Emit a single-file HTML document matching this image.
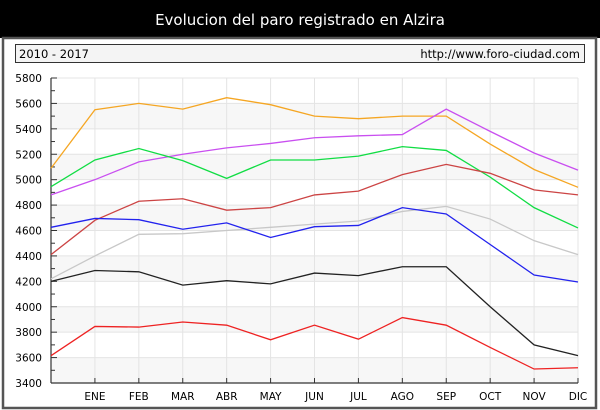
<!DOCTYPE html>
<html><head><meta charset="utf-8"><style>
html,body{margin:0;padding:0;background:#fff;}
svg{display:block;font-family:"DejaVu Sans","Liberation Sans",sans-serif;}
</style></head><body>
<svg width="600" height="410" viewBox="0 0 600 410" xmlns="http://www.w3.org/2000/svg">
<rect x="0" y="0" width="600" height="410" fill="#fff"/>
<rect x="0" y="0" width="600" height="38" fill="#000"/>
<text x="300" y="25" fill="#fff" font-size="15" text-anchor="middle">Evolucion del paro registrado en Alzira</text>
<rect x="3" y="38" width="593" height="370" fill="none" stroke="#555" stroke-width="2.5"/>
<rect x="15.5" y="44.5" width="569" height="18" fill="#f4f4f4" stroke="#333" stroke-width="1"/>
<text x="19" y="58" font-size="11.5" fill="#000">2010 - 2017</text>
<text x="580" y="58" font-size="11.5" fill="#000" text-anchor="end">http://www.foro-ciudad.com</text>
<g id="bands"></g><g id="grid"></g><g id="axes"></g><g id="series"></g>
</svg>
<script>
const months = ["","ENE","FEB","MAR","ABR","MAY","JUN","JUL","AGO","SEP","OCT","NOV","DIC"];
const yTicks = [3400,3600,3800,4000,4200,4400,4600,4800,5000,5200,5400,5600,5800];
const sOrange = [5090,5550,5600,5555,5645,5590,5500,5480,5500,5500,5280,5080,4940];
const sPurple = [4880,5000,5140,5200,5250,5285,5330,5345,5355,5555,5380,5210,5075];
const sGreen  = [4945,5155,5245,5150,5010,5155,5155,5185,5260,5230,5020,4780,4620];
const sBrown  = [4410,4680,4830,4850,4760,4780,4880,4910,5040,5120,5050,4920,4880];
const sBlue   = [4625,4695,4685,4610,4660,4545,4630,4640,4780,4730,4490,4250,4195];
const sGray   = [4220,4400,4570,4575,4600,4625,4650,4675,4750,4790,4690,4520,4410];
const sBlack  = [4200,4285,4275,4170,4205,4180,4265,4245,4315,4315,4000,3700,3615];
const sRed    = [3615,3845,3840,3880,3855,3740,3855,3745,3915,3855,3680,3510,3520];
const seriesList = [
 ["series-orange",sOrange,"#f5a623"],["series-purple",sPurple,"#c94ff0"],
 ["series-green",sGreen,"#11dd44"],["series-brown",sBrown,"#cc4444"],
 ["series-lightgray",sGray,"#c8c8c8"],["series-blue",sBlue,"#2222ee"],
 ["series-black",sBlack,"#222222"],["series-red",sRed,"#ee2222"]];
const NS="http://www.w3.org/2000/svg";
const X0=51,X1=578,Y0=383,Y1=78,VMIN=3400,VMAX=5800;
const xS=i=>X0+(X1-X0)*i/(months.length-1);
const yS=v=>Y0-(v-VMIN)/(VMAX-VMIN)*(Y0-Y1);
function mk(t,a,p){const e=document.createElementNS(NS,t);for(const k in a)e.setAttribute(k,a[k]);document.getElementById(p).appendChild(e);return e;}
for(let i=0;i<yTicks.length-1;i++){
 if(i%2===0){const b=mk("rect",{x:X0,y:yS(yTicks[i+1]),width:X1-X0,height:yS(yTicks[i])-yS(yTicks[i+1]),fill:"#f7f7f7"},"bands");
 
 }
}
yTicks.forEach(v=>{
 const l=mk("line",{x1:X0,x2:X1,y1:yS(v),y2:yS(v),stroke:"#e4e4e4","stroke-width":1},"grid");
 
 
 const t=mk("text",{x:42,y:yS(v)+4,"font-size":10.5,"text-anchor":"end",fill:"#000"},"axes");
 
 
 t.textContent=v;
});
for(let v=VMIN;v<=VMAX;v+=100){
 const tk=mk("line",{x1:X0,x2:X0+(v%200===0?6:4),y1:yS(v),y2:yS(v),stroke:"#333"},"axes");
 
 
}
months.forEach((m,i)=>{
 if(i===0)return;
 const l=mk("line",{x1:xS(i),x2:xS(i),y1:Y1,y2:Y0,stroke:"#e4e4e4"},"grid");
 
 
 const tk=mk("line",{x1:xS(i),x2:xS(i),y1:Y0-5,y2:Y0,stroke:"#333"},"axes");
 
 
 const t=mk("text",{x:xS(i),y:400,"font-size":10.5,"text-anchor":"middle",fill:"#000"},"axes");
 
 
 t.textContent=m;
});
const ya=mk("line",{x1:X0,x2:X0,y1:Y1,y2:Y0,stroke:"#333","stroke-width":1.2},"axes");


const xa=mk("line",{x1:X0,x2:X1,y1:Y0,y2:Y0,stroke:"#333","stroke-width":1.2},"axes");


seriesList.forEach(([n,d,c])=>{
 const p=mk("polyline",{points:d.map((v,i)=>xS(i)+","+yS(v)).join(" "),fill:"none",stroke:c,"stroke-width":1.3},"series");
 
 
});
</script>
</body></html>
